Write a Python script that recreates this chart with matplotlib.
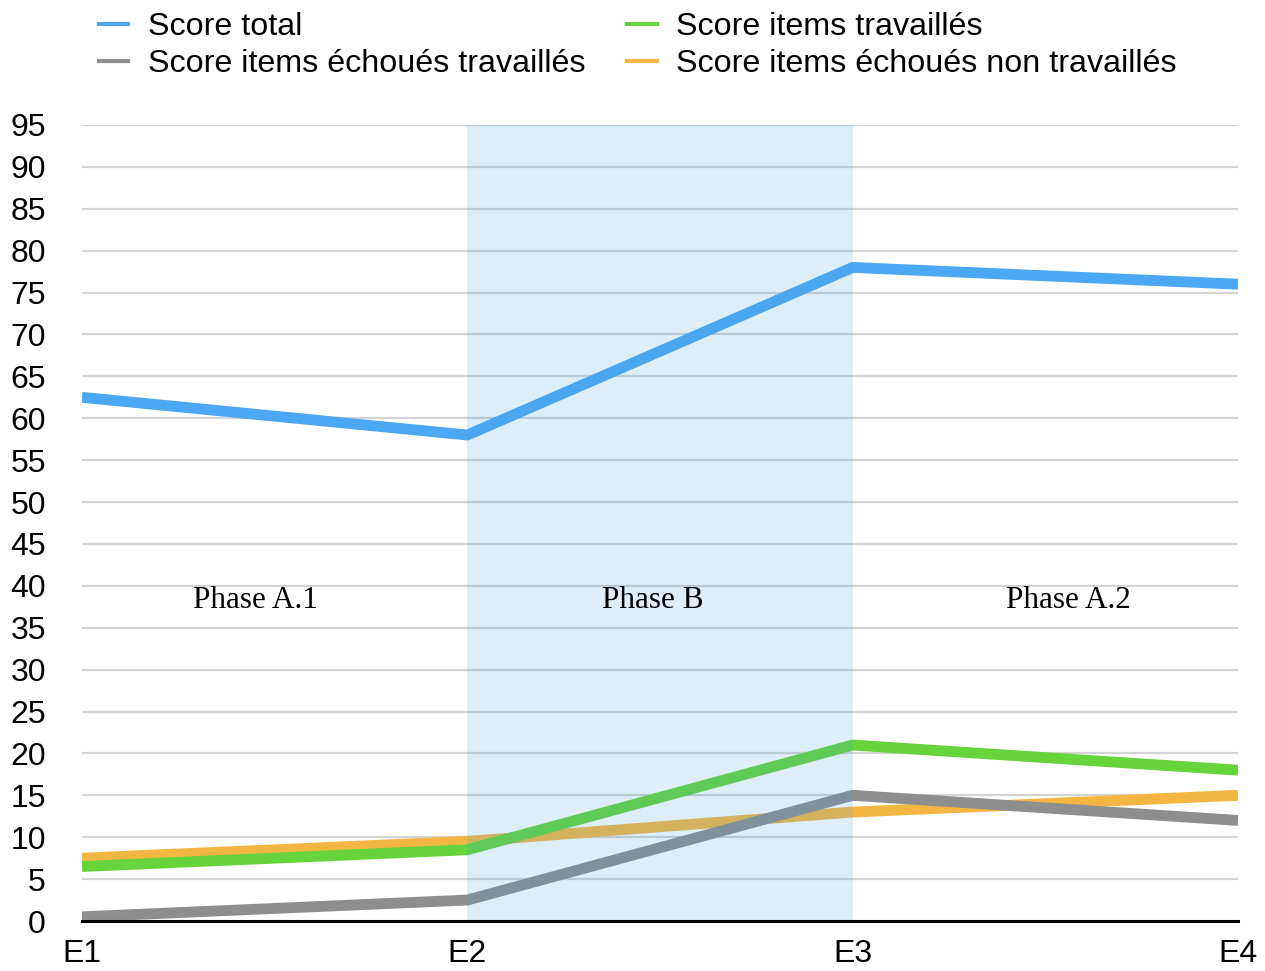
import numpy as np
import matplotlib.pyplot as plt
import matplotlib as mpl
from matplotlib.lines import Line2D

mpl.rcParams['font.family'] = ['Liberation Sans', 'DejaVu Sans']

sessions = ["E1", "E2", "E3", "E4"]
score_total = [62.5, 58, 78, 76]
score_travailles = [6.5, 8.5, 21, 18]
score_echoues_trav = [0.5, 2.5, 15, 12]
score_echoues_non_trav = [7.5, 9.5, 13, 15]

phases = ["Phase A.1", "Phase B", "Phase A.2"]
phase_x = [0.45, 1.48, 2.56]
phase_y = 38.3

c_blue = '#4aa8f5'
c_green = '#66d43a'
c_grey = '#8e8e8e'
c_orange = '#f4b642'

fig = plt.figure(figsize=(12.65, 9.71), dpi=100)
ax = fig.add_axes((82/1265, 50/971, (1238-82)/1265, (921-125)/971))

x = np.arange(len(sessions))
lw = 7.8
ax.plot(x, score_echoues_non_trav, color=c_orange, lw=lw, solid_capstyle='butt', zorder=3)
ax.plot(x, score_echoues_trav, color=c_grey, lw=lw, solid_capstyle='butt', zorder=4)
ax.plot(x, score_travailles, color=c_green, lw=lw, solid_capstyle='butt', zorder=5)
ax.plot(x, score_total, color=c_blue, lw=lw, solid_capstyle='butt', zorder=6)

# shaded phase B, drawn over the lines like the original
ax.axvspan(1, 2, ymin=0, ymax=1, color='#48a1d9', alpha=0.18, lw=0, zorder=7)

for name, px in zip(phases, phase_x):
  ax.text(px, phase_y, name, ha='center', va='center', fontsize=22.5,
          family='Liberation Serif', zorder=8)

ax.set_xlim(0, 3)
ax.set_ylim(0, 95)
ax.set_yticks(np.arange(0, 96, 5))
ax.set_xticks(x)
ax.set_xticklabels(sessions)
ax.tick_params(axis='y', length=0, pad=26, labelsize=23)
ax.tick_params(axis='x', length=0, pad=13, labelsize=23)
ax.yaxis.grid(True, color='#d4d4d4', lw=1.6, zorder=1)
ax.set_axisbelow(True)
for s in ['top', 'right', 'left']:
  ax.spines[s].set_visible(False)
ax.spines['bottom'].set_linewidth(2.2)
ax.spines['bottom'].set_zorder(9)

handles = [Line2D([], [], color=c_blue, lw=3),
           Line2D([], [], color=c_grey, lw=3),
           Line2D([], [], color=c_green, lw=3),
           Line2D([], [], color=c_orange, lw=3)]
labels = ["Score total", "Score items échoués travaillés",
          "Score items travaillés", "Score items échoués non travaillés"]
fig.legend(handles, labels, ncol=2, loc='upper left', bbox_to_anchor=(0.055, 1.017),
           frameon=False, fontsize=23.2, handlelength=0.92, handletextpad=0.6,
           columnspacing=1.3, labelspacing=0.2)

plt.savefig("out.png", dpi=100)
